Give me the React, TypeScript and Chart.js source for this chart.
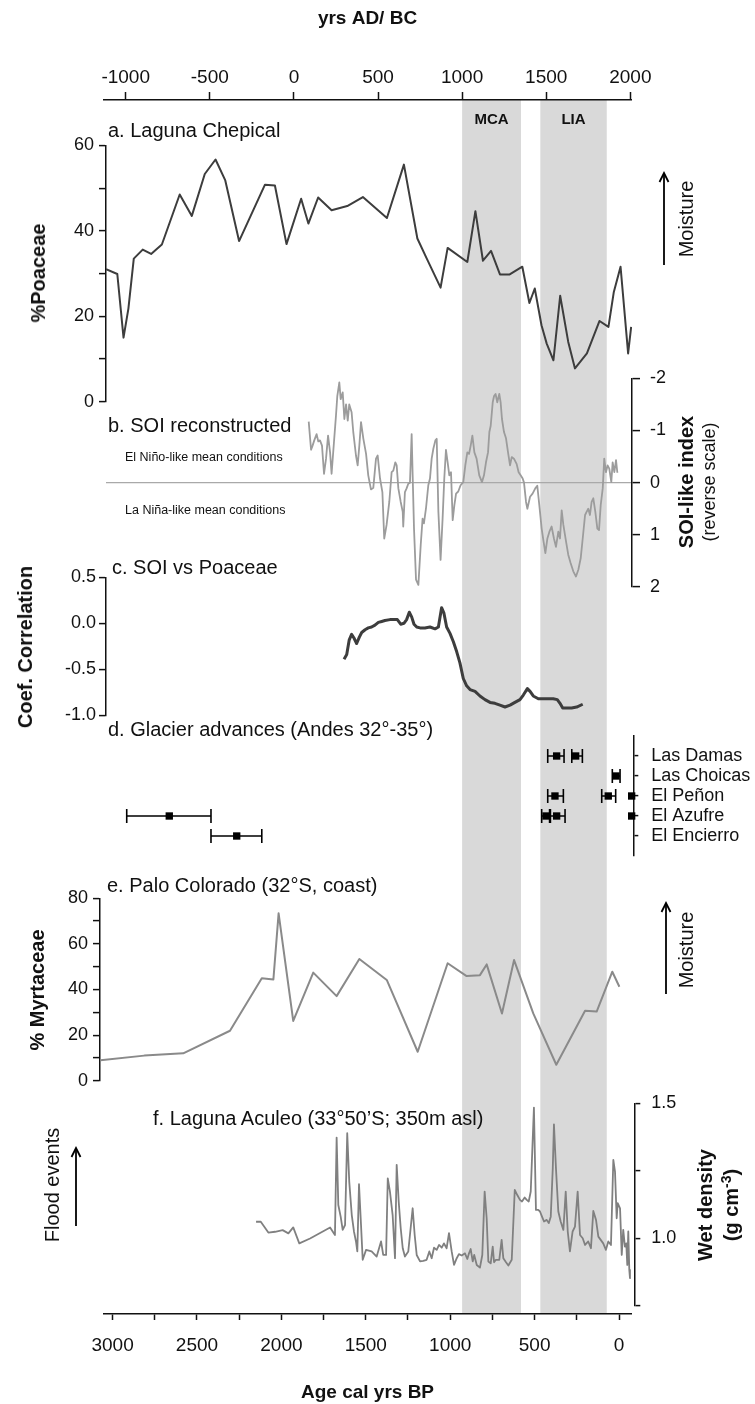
import React, { useEffect, useRef } from "react";
import { Chart, registerables } from "chart.js";

Chart.register(...registerables);

const FONT = '"Liberation Sans", Arial, Helvetica, sans-serif';
const INK = "#111111";
Chart.defaults.font.family = FONT;

// ---------------- data ----------------
const AD_TICKS = [-1000, -500, 0, 500, 1000, 1500, 2000];
const BP_TICKS = [0, 250, 500, 750, 1000, 1250, 1500, 1750, 2000, 2250, 2500, 2750, 3000];

const PERIOD_LABEL = ["MCA", "LIA"];
const PERIOD_START_AD = [1000, 1465];
const PERIOD_END_AD = [1350, 1860];

// a. Laguna Chepical (%Poaceae)
const POACEAE_AGE = [3067, 3000, 2963, 2934, 2902, 2849, 2799, 2735, 2629, 2557, 2480, 2416, 2358, 2276, 2122, 2063, 1994, 1907, 1864, 1806, 1726, 1633, 1540, 1397, 1296, 1216, 1160, 1078, 1036, 919, 871, 826, 778, 725, 667, 592, 550, 518, 478, 447, 407, 367, 319, 279, 208, 133, 80, 48, 8, -37, -55];
const POACEAE_PCT = [31.0, 29.9, 15.0, 21.8, 33.5, 35.6, 34.6, 36.8, 48.5, 43.5, 53.3, 56.7, 51.8, 37.6, 50.8, 50.6, 36.9, 47.5, 41.7, 47.8, 44.8, 45.8, 47.9, 43.0, 55.5, 38.2, 33.5, 26.7, 36.0, 32.7, 44.6, 33.0, 35.3, 29.8, 29.8, 31.6, 23.1, 26.5, 17.9, 13.6, 9.7, 24.8, 14.0, 7.8, 11.3, 18.9, 17.5, 25.7, 31.6, 11.3, 17.5];
const POACEAE_TICKS = [0, 10, 20, 30, 40, 50, 60];

// b. SOI reconstructed
const SOI_AGE = [
  1862, 1848, 1839, 1829, 1815, 1805, 1795, 1783, 1771, 1759,
  1747, 1735, 1726, 1712, 1700, 1692, 1680, 1672, 1660, 1650,
  1640, 1630, 1621, 1607, 1597, 1581, 1571, 1561, 1551, 1537,
  1521, 1508, 1492, 1478, 1462, 1452, 1438, 1424, 1413, 1399,
  1383, 1369, 1359, 1347, 1339, 1329, 1315, 1303, 1300, 1290,
  1280, 1270, 1260, 1250, 1244, 1236, 1224, 1210, 1196, 1185,
  1177, 1165, 1151, 1141, 1131, 1121, 1109, 1101, 1091, 1078,
  1066, 1056, 1046, 1036, 1026, 1016, 1006, 996, 986, 973,
  959, 943, 931, 919, 909, 899, 889, 877, 864, 848,
  832, 820, 808, 796, 788, 780, 768, 760, 751, 741,
  729, 721, 713, 701, 689, 677, 665, 655, 642, 626,
  614, 602, 590, 582, 570, 562, 546, 531, 515, 503,
  491, 477, 467, 455, 443, 431, 418, 404, 392, 378,
  368, 358, 348, 332, 319, 305, 289, 273, 259, 245,
  233, 219, 210, 200, 190, 180, 170, 158, 146, 136,
  126, 114, 105, 95, 85, 75, 63, 55, 45, 35,
  27,
];
const SOI_INDEX = [
  -1.17, -0.63, -0.71, -0.81, -0.93, -0.79, -0.81, -0.71, -0.17, -0.46,
  -0.9, -0.58, -0.17, -0.77, -1.28, -1.66, -1.92, -1.6, -1.73, -1.22,
  -1.5, -1.19, -1.5, -1.35, -0.97, -0.52, -0.33, -0.71, -1.16, -0.84,
  -0.55, -0.14, 0.13, 0.1, -0.46, -0.52, -0.08, 0.18, 1.07, 0.81,
  0.37, -0.2, -0.23, -0.39, -0.33, 0.11, 0.37, 0.56, 0.84, 0.18,
  0.11, 0.02, 0.0, -0.93, -0.14, 0.88, 1.86, 1.96, 1.19, 0.69,
  0.78, 0.5, 0.05, -0.08, -0.46, -0.65, -0.81, -0.84, 0.56, 1.48,
  0.69, -0.08, -0.63, -0.39, -0.14, -0.2, 0.72, 0.43, 0.21, 0.17,
  0.05, -0.01, -0.33, -0.58, -0.55, -0.71, -0.9, -0.58, -0.46, -0.14,
  -0.01, -0.14, -0.39, -0.58, -0.97, -1.09, -1.54, -1.66, -1.7, -1.54,
  -1.7, -1.54, -1.22, -0.97, -0.85, -0.58, -0.33, -0.49, -0.46, -0.36,
  -0.2, -0.14, -0.08, 0.0, 0.37, 0.5, 0.27, 0.21, 0.11, 0.06,
  0.43, 0.88, 1.1, 1.35, 1.07, 0.94, 0.84, 1.07, 1.23, 0.94,
  1.07, 0.53, 0.81, 1.13, 1.38, 1.54, 1.7, 1.8, 1.67, 1.45,
  1.07, 0.62, 0.56, 0.5, 0.62, 0.37, 0.3, 0.56, 0.88, 0.91,
  0.43, 0.11, -0.46, -0.2, -0.33, -0.27, -0.01, -0.39, -0.2, -0.43,
  -0.19,
];
const SOI_TICKS = [-2, -1, 0, 1, 2];

// c. SOI vs Poaceae (correlation)
const CORR_AGE = [
  1652, 1636, 1621, 1607, 1593, 1577, 1561, 1547, 1527, 1508,
  1488, 1468, 1448, 1428, 1409, 1379, 1349, 1335, 1315, 1296,
  1280, 1264, 1250, 1236, 1220, 1200, 1171, 1141, 1111, 1091,
  1072, 1058, 1042, 1022, 1002, 982, 963, 943, 923, 903,
  873, 844, 814, 784, 755, 725, 695, 665, 636, 606,
  586, 562, 546, 527, 497, 467, 437, 408, 384, 368,
  352, 328, 299, 269, 233,
];
const CORR_COEF = [
  -0.39, -0.34, -0.18, -0.12, -0.16, -0.22, -0.15, -0.1, -0.07, -0.05,
  -0.04, -0.02, 0.01, 0.02, 0.03, 0.04, 0.04, 0.04, -0.01, 0.0,
  0.04, 0.12, 0.07, -0.01, -0.04, -0.05, -0.05, -0.04, -0.06, -0.04,
  0.17, 0.11, -0.04, -0.11, -0.2, -0.31, -0.43, -0.6, -0.68, -0.72,
  -0.74, -0.79, -0.83, -0.86, -0.87, -0.89, -0.91, -0.89, -0.86, -0.83,
  -0.78, -0.71, -0.74, -0.79, -0.82, -0.82, -0.82, -0.82, -0.83, -0.87,
  -0.92, -0.92, -0.92, -0.91, -0.88,
];
const CORR_TICKS = [-1, -0.5, 0, 0.5];

// d. Glacier advances
const GLACIER_SITES = ["Las Damas", "Las Choicas", "El Peñon", "El Azufre", "El Encierro"];
const ADV_SITE = [1, 1, 2, 3, 3, 3, 4, 4, 4, 4, 5];
const ADV_OLD = [441, 298, 57, 441, 120, null, 477, 425, null, 2944, 2443];
const ADV_MID = [388, 275, 35, 398, 81, -58, 451, 388, -58, 2691, 2290];
const ADV_YOUNG = [344, 235, 11, 348, 37, null, 430, 338, null, 2443, 2141];

// e. Palo Colorado (% Myrtaceae)
const MYRT_AGE = [3100, 2840, 2608, 2330, 2141, 2072, 2041, 1954, 1835, 1696, 1561, 1398, 1214, 1036, 923, 844, 804, 713, 641, 527, 390, 219, 150, 57, 15];
const MYRT_PCT = [9.0, 11.0, 12.0, 21.9, 44.9, 44.4, 73.4, 26.2, 47.4, 37.1, 53.4, 44.2, 12.7, 51.5, 45.9, 46.3, 51.0, 29.5, 52.9, 29.5, 7.0, 30.7, 30.3, 47.8, 41.2];
const MYRT_TICKS = [0, 10, 20, 30, 40, 50, 60, 70, 80];

// f. Laguna Aculeo (wet density)
const ACULEO_AGE = [
  2175, 2147, 2102, 2062, 2017, 1983, 1954, 1918, 1854, 1735,
  1706, 1696, 1686, 1672, 1660, 1646, 1633, 1621, 1606, 1593,
  1581, 1573, 1563, 1551, 1541, 1521, 1488, 1458, 1432, 1419,
  1402, 1392, 1379, 1363, 1349, 1339, 1327, 1315, 1303, 1290,
  1270, 1244, 1232, 1220, 1200, 1181, 1161, 1145, 1131, 1117,
  1101, 1087, 1071, 1058, 1042, 1028, 1012, 998, 982, 969,
  952, 933, 919, 909, 899, 887, 878, 863, 844, 830,
  816, 804, 794, 780, 768, 760, 749, 729, 715, 705,
  689, 675, 655, 637, 622, 606, 594, 578, 566, 554,
  542, 533, 523, 511, 497, 487, 475, 463, 447, 435,
  423, 411, 404, 392, 378, 364, 348, 334, 322, 309,
  293, 279, 263, 249, 233, 219, 200, 184, 170, 154,
  140, 126, 111, 95, 81, 65, 51, 41, 31, 25,
  11, 1, -8, -18, -26, -32, -38, -44, -48,
];
const ACULEO_DENSITY = [
  1.061, 1.061, 1.021, 1.024, 1.03, 1.018, 1.04, 0.981, 0.999, 1.04,
  1.012, 1.373, 1.123, 1.08, 1.031, 1.049, 1.389, 1.21, 1.086, 1.025,
  0.988, 0.951, 1.2, 1.049, 0.92, 0.957, 0.951, 0.932, 0.988, 0.938,
  0.938, 1.222, 1.173, 1.086, 0.926, 1.272, 1.136, 1.037, 0.963, 0.932,
  0.951, 1.111, 1.012, 0.938, 0.914, 0.916, 0.92, 0.951, 0.926, 0.965,
  0.957, 0.975, 0.965, 0.981, 0.963, 1.019, 0.951, 0.901, 0.926, 0.941,
  0.936, 0.944, 0.923, 0.944, 0.96, 0.914, 0.938, 0.901, 0.891, 0.938,
  1.173, 1.074, 0.914, 0.907, 0.969, 0.911, 0.92, 0.92, 0.994, 0.926,
  0.911, 0.899, 0.92, 1.179, 1.16, 1.142, 1.136, 1.151, 1.142, 1.136,
  1.173, 1.321, 1.484, 1.105, 1.105, 1.099, 1.08, 1.062, 1.068, 1.056,
  1.08, 1.259, 1.422, 1.259, 1.099, 1.062, 1.031, 1.173, 1.025, 0.951,
  1.025, 1.043, 1.173, 1.012, 1.0, 0.975, 0.988, 0.963, 1.101, 1.068,
  1.006, 0.994, 0.981, 0.957, 0.988, 0.975, 1.29, 1.247, 1.074, 1.13,
  1.111, 0.938, 1.031, 0.969, 0.981, 0.901, 1.025, 0.883, 0.852,
];
const ACULEO_TICKS = [0.75, 1, 1.25, 1.5];

// ---------------- layout ----------------
const W = 755;
const H = 1404;
// pixel mapping of the data panels (age BP -> x)
const DATA_PX0 = 621.9;
const DATA_PX_PER_YR = 0.1682;
// pixel mapping of the bottom age axis
const AXIS_PX0 = 619;
const AXIS_PX_PER_YR = 0.1688;

const xRange = (L: number, R: number) => ({
  min: (DATA_PX0 - R) / DATA_PX_PER_YR,
  max: (DATA_PX0 - L) / DATA_PX_PER_YR,
});

type YOpts = {
  position: "left" | "right";
  min: number;
  max: number;
  reverse?: boolean;
  ticks: number[];
  label: (v: number) => string;
  tickLength: number;
  padding: number;
  fontSize?: number;
  zero?: boolean;
};

function yScale(o: YOpts, width: number) {
  return {
    type: "linear",
    position: o.position,
    min: o.min,
    max: o.max,
    reverse: !!o.reverse,
    afterFit: (s: any) => {
      s.width = width;
    },
    afterBuildTicks: (s: any) => {
      s.ticks = o.ticks.map((v) => ({ value: v }));
    },
    ticks: {
      callback: (v: any) => o.label(Number(v)),
      font: { family: FONT, size: o.fontSize ?? 18 },
      color: INK,
      padding: o.padding,
      autoSkip: false,
      maxRotation: 0,
    },
    grid: {
      drawOnChartArea: !!o.zero,
      color: (c: any) => (o.zero && c.tick && c.tick.value === 0 ? "#a9a9a9" : "rgba(0,0,0,0)"),
      tickColor: INK,
      tickLength: o.tickLength,
      lineWidth: 1.2,
      tickWidth: 1.5,
    },
    border: { display: true, color: INK, width: 1.5 },
  };
}

function panel(area: { L: number; T: number; R: number; B: number }, y: YOpts, datasets: any[]) {
  const xr = xRange(area.L, area.R);
  const left = y.position === "left";
  // the axis box reaches the canvas edge so that its labels are never clipped
  const axisWidth = left ? area.L : W - area.R;
  return {
    type: "line",
    data: { datasets },
    options: {
      animation: false,
      responsive: false,
      events: [],
      layout: {
        padding: {
          left: left ? 0 : area.L,
          right: left ? W - area.R : 0,
          top: area.T,
          bottom: H - area.B,
        },
      },
      plugins: { legend: { display: false }, tooltip: { enabled: false } },
      scales: {
        x: { type: "linear", display: false, min: xr.min, max: xr.max, reverse: true },
        y: yScale(y, axisWidth),
      },
    },
  };
}

const series = (xs: number[], ys: number[], color: string, width: number) => ({
  data: xs.map((x, i) => ({ x, y: ys[i] })),
  borderColor: color,
  borderWidth: width,
  pointRadius: 0,
  tension: 0,
  fill: false,
  borderJoinStyle: "round",
});

const bandPlugin = {
  id: "periodBands",
  beforeDraw(chart: any) {
    const { ctx, chartArea: a, scales } = chart;
    const s = scales.xt;
    ctx.save();
    PERIOD_START_AD.forEach((st, i) => {
      const x1 = s.getPixelForValue(st);
      const x2 = s.getPixelForValue(PERIOD_END_AD[i]);
      ctx.fillStyle = "#d9d9d9";
      ctx.fillRect(x1, a.top, x2 - x1, a.bottom - a.top);
      ctx.fillStyle = INK;
      ctx.font = `bold 15px ${FONT}`;
      ctx.textAlign = "center";
      ctx.textBaseline = "middle";
      ctx.fillText(PERIOD_LABEL[i], (x1 + x2) / 2, a.top + 20);
    });
    ctx.restore();
  },
};

function frameConfig() {
  const L = 104;
  const R = 631;
  const TOP = 100;
  const BOTTOM = 1314;
  const bpMin = (AXIS_PX0 - R) / AXIS_PX_PER_YR;
  const bpMax = (AXIS_PX0 - L) / AXIS_PX_PER_YR;
  const adMin = 1950 - (DATA_PX0 - L) / DATA_PX_PER_YR;
  const adMax = 1950 - (DATA_PX0 - R) / DATA_PX_PER_YR;
  const axisCommon = {
    type: "linear",
    axis: "x",
    border: { display: true, color: INK, width: 1.5 },
  };
  return {
    type: "line",
    data: { datasets: [] },
    plugins: [bandPlugin],
    options: {
      animation: false,
      responsive: false,
      events: [],
      layout: { padding: { left: L, right: W - R, top: 0, bottom: 0 } },
      plugins: { legend: { display: false }, tooltip: { enabled: false } },
      scales: {
        xb: {
          ...axisCommon,
          position: "bottom",
          reverse: true,
          min: bpMin,
          max: bpMax,
          afterFit: (s: any) => {
            s.height = H - BOTTOM;
          },
          afterBuildTicks: (s: any) => {
            s.ticks = BP_TICKS.map((v) => ({ value: v }));
          },
          ticks: {
            callback: (v: any) => (Number(v) % 500 === 0 ? String(v) : ""),
            font: { family: FONT, size: 19 },
            color: INK,
            padding: 14,
            autoSkip: false,
            maxRotation: 0,
          },
          grid: { drawOnChartArea: false, tickLength: 6, color: INK, tickColor: INK, tickWidth: 1.5 },
          title: {
            display: true,
            text: "Age cal yrs BP",
            font: { family: FONT, size: 19, weight: "bold" },
            color: INK,
            padding: { top: 0, bottom: 0 },
          },
        },
        xt: {
          ...axisCommon,
          position: "top",
          min: adMin,
          max: adMax,
          afterFit: (s: any) => {
            s.height = TOP;
          },
          afterBuildTicks: (s: any) => {
            s.ticks = AD_TICKS.map((v) => ({ value: v }));
          },
          ticks: {
            callback: (v: any) => String(v),
            font: { family: FONT, size: 19 },
            color: INK,
            padding: 3,
            autoSkip: false,
            maxRotation: 0,
          },
          grid: { drawOnChartArea: false, tickLength: 8, color: INK, tickColor: INK, tickWidth: 1.5 },
          title: {
            display: true,
            text: "yrs AD/ BC",
            font: { family: FONT, size: 19, weight: "bold" },
            color: INK,
            padding: { top: 7, bottom: 0 },
          },
        },
        y: { display: false, min: 0, max: 1 },
      },
    },
  };
}

function chartConfigs() {
  const poaceae = panel(
    { L: 106, T: 145.4, R: 632, B: 401.7 },
    {
      position: "left",
      min: 0,
      max: 60,
      ticks: POACEAE_TICKS,
      label: (v) => (v % 20 === 0 ? String(v) : ""),
      tickLength: 7,
      padding: 5,
    },
    [series(POACEAE_AGE, POACEAE_PCT, "#3d3d3d", 2)]
  );

  const soi = panel(
    { L: 106, T: 378.3, R: 632, B: 587 },
    {
      position: "right",
      min: -2,
      max: 2,
      reverse: true,
      ticks: SOI_TICKS,
      label: (v) => String(v),
      tickLength: 8,
      padding: 10,
      zero: true,
    },
    [series(SOI_AGE, SOI_INDEX, "#9c9c9c", 1.8)]
  );

  const corr = panel(
    { L: 106, T: 577.3, R: 632, B: 715.3 },
    {
      position: "left",
      min: -1,
      max: 0.5,
      ticks: CORR_TICKS,
      label: (v) => v.toFixed(1),
      tickLength: 7,
      padding: 3,
    },
    [series(CORR_AGE, CORR_COEF, "#3d3d3d", 3)]
  );

  const barPts: any[] = [];
  const midPts: any[] = [];
  ADV_SITE.forEach((site, i) => {
    midPts.push({ x: ADV_MID[i], y: site });
    if (ADV_OLD[i] == null || ADV_YOUNG[i] == null) return;
    barPts.push({ x: ADV_OLD[i], y: site }, { x: ADV_YOUNG[i], y: site }, { x: ADV_YOUNG[i], y: null });
  });
  const glacier = panel(
    { L: 106, T: 736, R: 633.3, B: 856 },
    {
      position: "right",
      min: 0,
      max: 6,
      reverse: true,
      ticks: [1, 2, 3, 4, 5],
      label: (v) => GLACIER_SITES[v - 1] ?? "",
      tickLength: 5,
      padding: 13,
    },
    [
      {
        data: barPts,
        borderColor: "#000",
        borderWidth: 1.6,
        spanGaps: false,
        pointStyle: "line",
        pointRotation: 90,
        pointRadius: 7,
        pointBorderWidth: 1.6,
        pointBorderColor: "#000",
        clip: false,
      },
      {
        data: midPts,
        showLine: false,
        pointStyle: "rect",
        pointRadius: 5.2,
        pointBackgroundColor: "#000",
        pointBorderColor: "#000",
        pointBorderWidth: 0,
        clip: false,
      },
    ]
  );

  const myrt = panel(
    { L: 100, T: 898.3, R: 632, B: 1080.7 },
    {
      position: "left",
      min: 0,
      max: 80,
      ticks: MYRT_TICKS,
      label: (v) => (v % 20 === 0 ? String(v) : ""),
      tickLength: 7,
      padding: 5,
    },
    [series(MYRT_AGE, MYRT_PCT, "#8a8a8a", 2)]
  );

  const aculeo = panel(
    { L: 106, T: 1103.3, R: 634.3, B: 1305.7 },
    {
      position: "right",
      min: 0.75,
      max: 1.5,
      ticks: ACULEO_TICKS,
      label: (v) => (v === 1 ? "1.0" : v === 1.5 ? "1.5" : ""),
      tickLength: 6,
      padding: 11,
    },
    [series(ACULEO_AGE, ACULEO_DENSITY, "#808080", 1.8)]
  );

  return [frameConfig(), poaceae, soi, corr, glacier, myrt, aculeo];
}

// ---------------- overlays ----------------
type TxtProps = {
  x: number;
  y: number;
  size?: number;
  bold?: boolean;
  rotate?: boolean;
  center?: boolean;
  children: React.ReactNode;
};

function Txt({ x, y, size = 20, bold = false, rotate = false, center = false, children }: TxtProps) {
  const tx = rotate || center ? "-50%" : "0";
  return (
    <div
      style={{
        position: "absolute",
        left: x,
        top: y,
        transform: `translate(${tx}, -50%)${rotate ? " rotate(-90deg)" : ""}`,
        fontSize: size,
        fontWeight: bold ? "bold" : "normal",
        whiteSpace: "nowrap",
        lineHeight: 1,
        color: INK,
      }}
    >
      {children}
    </div>
  );
}

function Arrow({ x, tail, tip }: { x: number; tail: number; tip: number }) {
  const h = tail - tip;
  return (
    <svg
      style={{ position: "absolute", left: x - 7, top: tip - 2, overflow: "visible" }}
      width={14}
      height={h + 4}
    >
      <line x1={7} y1={h + 2} x2={7} y2={2} stroke="#000" strokeWidth={1.8} />
      <polyline points="2.5,11 7,2 11.5,11" fill="none" stroke="#000" strokeWidth={1.8} />
    </svg>
  );
}

export default function App() {
  const refs = useRef<(HTMLCanvasElement | null)[]>([]);
  const count = 7;

  useEffect(() => {
    const configs = chartConfigs();
    const charts = configs.map((cfg, i) => new Chart(refs.current[i] as HTMLCanvasElement, cfg as any));
    return () => charts.forEach((c) => c.destroy());
  }, []);

  return (
    <div
      style={{
        position: "absolute",
        left: 0,
        top: 0,
        width: W,
        height: H,
        background: "#fff",
        fontFamily: FONT,
        overflow: "hidden",
      }}
    >
      {Array.from({ length: count }).map((_, i) => (
        <canvas
          key={i}
          ref={(el) => {
            refs.current[i] = el;
          }}
          width={W}
          height={H}
          style={{ position: "absolute", left: 0, top: 0, width: W, height: H }}
        />
      ))}

      <Txt x={108} y={130}>a. Laguna Chepical</Txt>
      <Txt x={38} y={273} bold rotate>%Poaceae</Txt>
      <Arrow x={664} tail={265} tip={173} />
      <Txt x={686} y={219} rotate>Moisture</Txt>

      <Txt x={108} y={425}>b. SOI reconstructed</Txt>
      <Txt x={125} y={457} size={12.5}>El Niño-like mean conditions</Txt>
      <Txt x={125} y={510} size={12.5}>La Niña-like mean conditions</Txt>
      <Txt x={686} y={482} bold rotate>SOI-like index</Txt>
      <Txt x={709} y={482} size={18} rotate>(reverse scale)</Txt>

      <Txt x={112} y={567}>c. SOI vs Poaceae</Txt>
      <Txt x={25} y={647} bold rotate>Coef. Correlation</Txt>

      <Txt x={108} y={729}>d. Glacier advances (Andes 32°-35°)</Txt>

      <Txt x={107} y={885}>e. Palo Colorado (32°S, coast)</Txt>
      <Txt x={37} y={990} bold rotate>% Myrtaceae</Txt>
      <Arrow x={666} tail={994} tip={903} />
      <Txt x={686} y={950} rotate>Moisture</Txt>

      <Txt x={153} y={1118}>f. Laguna Aculeo (33°50’S; 350m asl)</Txt>
      <Txt x={52} y={1185} rotate>Flood events</Txt>
      <Arrow x={76} tail={1226} tip={1148} />
      <Txt x={705} y={1205} bold rotate>Wet density</Txt>
      <Txt x={730} y={1205} bold rotate>
        (g cm<sup style={{ fontSize: "0.7em" }}>-3</sup>)
      </Txt>
    </div>
  );
}
